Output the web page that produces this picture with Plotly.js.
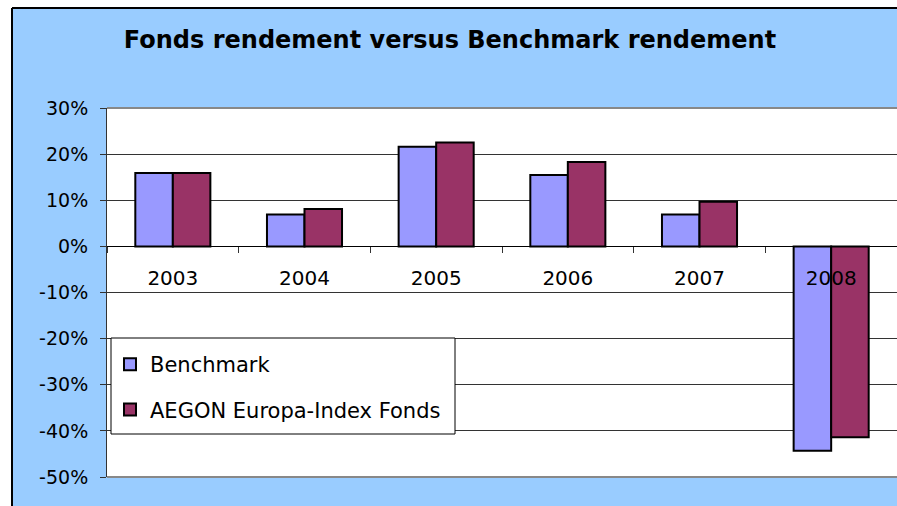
<!DOCTYPE html>
<html>
<head>
<meta charset="utf-8">
<script src="https://cdn.plot.ly/plotly-3.0.1.min.js"></script>
<style>
  html, body { margin: 0; padding: 0; background: #ffffff; }
  #chart { width: 897px; height: 506px; }
</style>
</head>
<body>
<div id="chart"></div>
<script>
// ---- data ----
const years = ['2003', '2004', '2005', '2006', '2007', '2008'];
const benchmark = [15.9, 6.9, 21.6, 15.5, 6.9, -44.3];
const aegon = [15.9, 8.1, 22.5, 18.3, 9.7, -41.4];
const seriesNames = ['Benchmark', 'AEGON Europa-Index Fonds'];
const yTickVals = [30, 20, 10, 0, -10, -20, -30, -40, -50];
const yTickText = ['30%', '20%', '10%', '0%', '-10%', '-20%', '-30%', '-40%', '-50%'];
const chartTitle = 'Fonds rendement versus Benchmark rendement';

// ---- layout geometry (pixels) ----
const W = 897, H = 506;
const L = 107, R = 0, T = 108, B = 29;
const pw = W - L - R, ph = H - T - B;
const px = x => (x - L) / pw;          // pixel x -> paper x
const py = y => (H - B - y) / ph;      // pixel y -> paper y
const yMin = -50, yMax = 30;

const FONT = 'DejaVu Sans, Verdana, sans-serif';

const traces = [
  {
    type: 'bar', name: seriesNames[0], x: years, y: benchmark,
    legendgroup: 'a',
    marker: { color: '#9999FF', line: { color: '#000000', width: 2 } }
  },
  {
    type: 'bar', name: seriesNames[1], x: years, y: aegon,
    legendgroup: 'b',
    marker: { color: '#993366', line: { color: '#000000', width: 2 } }
  }
];

const layout = {
  width: W, height: H,
  margin: { l: L, r: R, t: T, b: B, pad: 0 },
  paper_bgcolor: '#99CCFF',
  plot_bgcolor: '#FFFFFF',
  barmode: 'group',
  bargap: 0.43,
  bargroupgap: 0,
  showlegend: true,
  font: { family: FONT, size: 20, color: '#000000' },
  title: {
    text: chartTitle,
    font: { family: 'DejaVu Sans, Verdana, sans-serif', size: 24, color: '#000000', weight: 'bold' },
    x: 450 / W, xanchor: 'center', xref: 'container',
    y: 1 - 40 / H, yanchor: 'middle', yref: 'container'
  },
  xaxis: {
    type: 'category',
    anchor: 'free',
    position: (0 - yMin) / (yMax - yMin),
    showline: true, linecolor: '#000000', linewidth: 1,
    showgrid: false, zeroline: false,
    ticks: 'outside', tickson: 'boundaries', ticklen: 6, tickcolor: '#333333', tickwidth: 1,
    ticklabelstandoff: 14,
    tickfont: { family: FONT, size: 20, color: '#000000' },
    range: [-0.5, 5.5],
    fixedrange: true
  },
  yaxis: {
    range: [yMin, yMax],
    tickvals: yTickVals, ticktext: yTickText,
    showgrid: true, gridcolor: '#333333', gridwidth: 1,
    zeroline: false,
    showline: true, linecolor: '#333333', linewidth: 1,
    ticks: 'outside', ticklen: 6, tickcolor: '#333333',
    tickfont: { family: FONT, size: 19, color: '#000000' },
    ticklabelstandoff: 8,
    fixedrange: true
  },
  legend: {
    x: px(110), y: py(344), xanchor: 'left', yanchor: 'top',
    bgcolor: 'rgba(0,0,0,0)', borderwidth: 0,
    traceorder: 'grouped', tracegroupgap: 15,
    font: { family: FONT, size: 21, color: '#000000' },
    itemwidth: 30
  },
  shapes: [
    // white margin outside the outer frame
    { type: 'rect', xref: 'paper', yref: 'paper', x0: px(-5), x1: px(12), y0: py(H + 5), y1: py(-5),
      fillcolor: '#FFFFFF', line: { width: 0 }, layer: 'above' },
    { type: 'rect', xref: 'paper', yref: 'paper', x0: px(-5), x1: px(W + 5), y0: py(8), y1: py(-5),
      fillcolor: '#FFFFFF', line: { width: 0 }, layer: 'above' },
    // outer frame
    { type: 'line', xref: 'paper', yref: 'paper', x0: px(12), x1: px(12), y0: py(8), y1: py(H + 5),
      line: { color: '#000000', width: 2 }, layer: 'above' },
    { type: 'line', xref: 'paper', yref: 'paper', x0: px(12), x1: px(W + 5), y0: py(8), y1: py(8),
      line: { color: '#000000', width: 2 }, layer: 'above' },
    // plot area borders
    { type: 'line', xref: 'paper', yref: 'paper', x0: 0, x1: 1, y0: 1, y1: 1,
      line: { color: '#888888', width: 2 }, layer: 'above' },
    { type: 'line', xref: 'paper', yref: 'paper', x0: 0, x1: 1, y0: 0, y1: 0,
      line: { color: '#888888', width: 2 }, layer: 'above' },
    // legend box
    { type: 'rect', xref: 'paper', yref: 'paper', x0: px(111), x1: px(455), y0: py(434), y1: py(338),
      fillcolor: '#FFFFFF', line: { color: '#000000', width: 1 }, layer: 'above' }
  ]
};

Plotly.newPlot('chart', traces, layout, { staticPlot: true, displayModeBar: false });
</script>
</body>
</html>
